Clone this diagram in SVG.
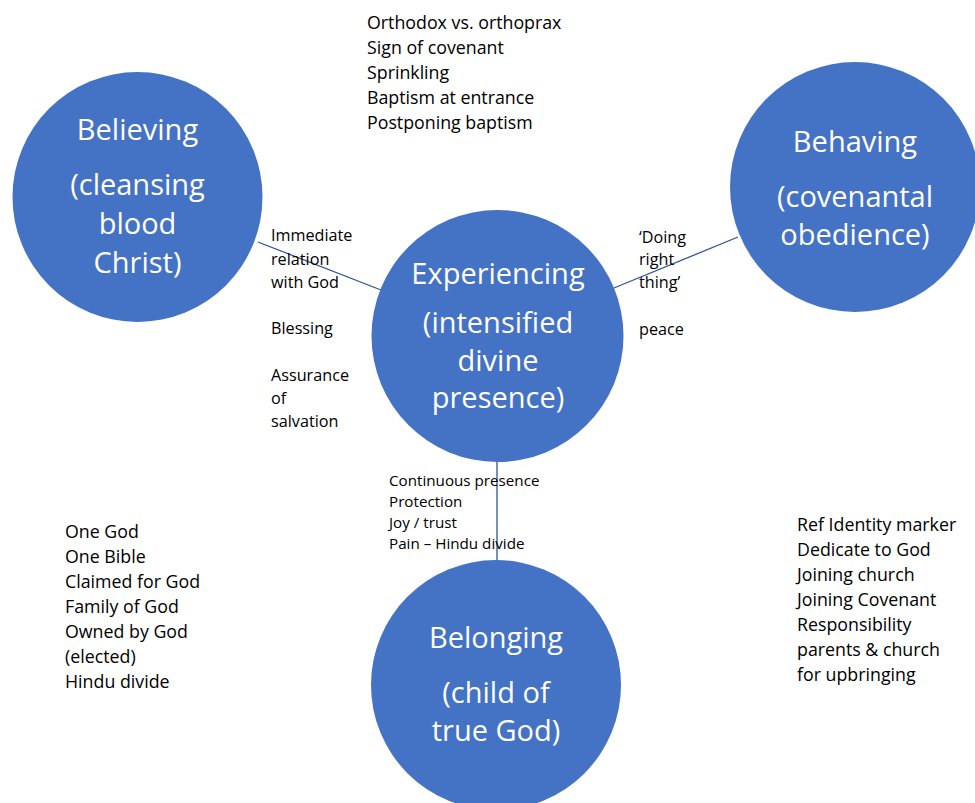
<svg xmlns="http://www.w3.org/2000/svg" width="975" height="803" viewBox="0 0 975 803">
<style>
.c{fill:#4472c4}
.t{font-family:"Open Sans","Noto Sans",sans-serif;fill:#ffffff;font-size:29px;text-anchor:middle}
.s{font-family:"Open Sans","Noto Sans",sans-serif;fill:#000000;font-size:17.8px}
.m{font-family:"Open Sans","Noto Sans",sans-serif;fill:#000000;font-size:16.2px}
.b{font-family:"Open Sans","Noto Sans",sans-serif;fill:#000000;font-size:15.2px}
.l{stroke:#2f5597;stroke-width:1.3;fill:none}
</style>
<rect width="975" height="803" fill="#ffffff"/>
<g id="connectors">
<line class="l" x1="258" y1="242" x2="381" y2="290"/>
<line class="l" x1="614" y1="288" x2="738" y2="237"/>
<line class="l" x1="497" y1="461" x2="497" y2="561"/>
</g>
<g id="believing">
<circle class="c" cx="137.5" cy="197" r="125"/>
<text class="t" x="137.5" y="140">Believing</text>
<text class="t" x="137.5" y="195">(cleansing</text>
<text class="t" x="137.5" y="234">blood</text>
<text class="t" x="137.5" y="273">Christ)</text>
</g>
<g id="experiencing">
<circle class="c" cx="497.5" cy="336" r="126"/>
<text class="t" x="498" y="284">Experiencing</text>
<text class="t" x="498" y="333">(intensified</text>
<text class="t" x="498" y="371">divine</text>
<text class="t" x="498" y="408">presence)</text>
</g>
<g id="behaving">
<circle class="c" cx="855" cy="187" r="125"/>
<text class="t" x="855" y="152">Behaving</text>
<text class="t" x="855" y="207">(covenantal</text>
<text class="t" x="855" y="245">obedience)</text>
</g>
<g id="belonging">
<circle class="c" cx="496" cy="685" r="125"/>
<text class="t" x="496" y="648">Belonging</text>
<text class="t" x="496" y="703">(child of</text>
<text class="t" x="496" y="741">true God)</text>
</g>
<g id="top-notes">
<text class="s" x="367" y="29">Orthodox vs. orthoprax</text>
<text class="s" x="367" y="54">Sign of covenant</text>
<text class="s" x="367" y="79">Sprinkling</text>
<text class="s" x="367" y="104">Baptism at entrance</text>
<text class="s" x="367" y="129">Postponing baptism</text>
</g>
<g id="left-link-notes">
<text class="m" x="271" y="241">Immediate</text>
<text class="m" x="271" y="265">relation</text>
<text class="m" x="271" y="288">with God</text>
<text class="m" x="271" y="334">Blessing</text>
<text class="m" x="271" y="381">Assurance</text>
<text class="m" x="271" y="404">of</text>
<text class="m" x="271" y="427">salvation</text>
</g>
<g id="right-link-notes">
<text class="m" x="639" y="243">‘Doing</text>
<text class="m" x="639" y="265">right</text>
<text class="m" x="639" y="288">thing’</text>
<text class="m" x="639" y="335">peace</text>
</g>
<g id="bottom-link-notes">
<text class="b" x="389" y="486">Continuous presence</text>
<text class="b" x="389" y="507">Protection</text>
<text class="b" x="389" y="528">Joy / trust</text>
<text class="b" x="389" y="549">Pain – Hindu divide</text>
</g>
<g id="left-notes">
<text class="s" x="65" y="538">One God</text>
<text class="s" x="65" y="563">One Bible</text>
<text class="s" x="65" y="588">Claimed for God</text>
<text class="s" x="65" y="613">Family of God</text>
<text class="s" x="65" y="638">Owned by God</text>
<text class="s" x="65" y="663">(elected)</text>
<text class="s" x="65" y="688">Hindu divide</text>
</g>
<g id="right-notes">
<text class="s" x="797" y="531">Ref Identity marker</text>
<text class="s" x="797" y="556">Dedicate to God</text>
<text class="s" x="797" y="581">Joining church</text>
<text class="s" x="797" y="606">Joining Covenant</text>
<text class="s" x="797" y="631">Responsibility</text>
<text class="s" x="797" y="656">parents &amp; church</text>
<text class="s" x="797" y="681">for upbringing</text>
</g>
</svg>
